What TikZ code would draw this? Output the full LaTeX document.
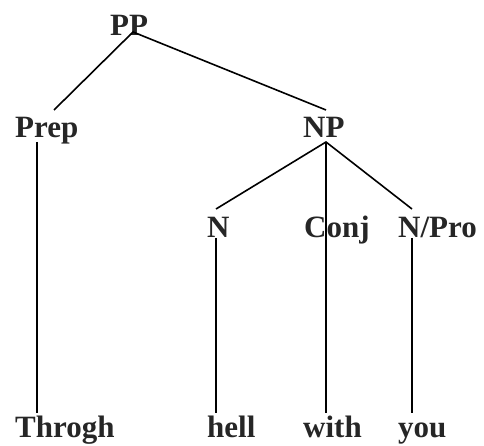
\documentclass[tikz,border=0pt]{standalone}
\usepackage{fontspec}
\setmainfont{Liberation Serif}
\begin{document}
\begin{tikzpicture}[x=1pt,y=-1pt,
  lbl/.style={anchor=base west,inner sep=0pt,font=\fontsize{31}{31}\selectfont\bfseries,text=black!85},
  edge/.style={line width=1.6pt,black}]
\useasboundingbox (0,0) rectangle (484,446);
% labels
\node[lbl] (PP) at (110,36) {PP};
\node[lbl] (Prep) at (15,138) {Prep};
\node[lbl] (NP) at (303,138) {NP};
\node[lbl] (N) at (207,237) {N};
\node[lbl] (Conj) at (304,237) {Conj};
\node[lbl] (NPro) at (398,237) {N/Pro};
\node[lbl] (Throgh) at (15,437) {Throgh};
\node[lbl] (hell) at (207,437) {hell};
\node[lbl] (with) at (303,437) {with};
\node[lbl] (you) at (398,437) {you};
% attachment points
\coordinate (PPb) at (133,32);
\coordinate (Prept) at (54,110);
\coordinate (NPt) at (326,110);
\coordinate (Prepb) at (37,142);
\coordinate (Througt) at (37,413);
\coordinate (NPb) at (326,142);
\coordinate (Nt) at (216,209);
\coordinate (NProt) at (412,209);
\coordinate (witht) at (326,413);
\coordinate (Nb) at (216,238);
\coordinate (hellt) at (216,413);
\coordinate (NProb) at (412,238);
\coordinate (yout) at (412,413);
% connectors
\draw[edge] (Prept) -- (PPb) -- (NPt);
\draw[edge] (Prepb) -- (Througt);
\draw[edge] (Nt) -- (NPb) -- (NProt);
\draw[edge] (NPb) -- (witht);
\draw[edge] (Nb) -- (hellt);
\draw[edge] (NProb) -- (yout);
\end{tikzpicture}
\end{document}
